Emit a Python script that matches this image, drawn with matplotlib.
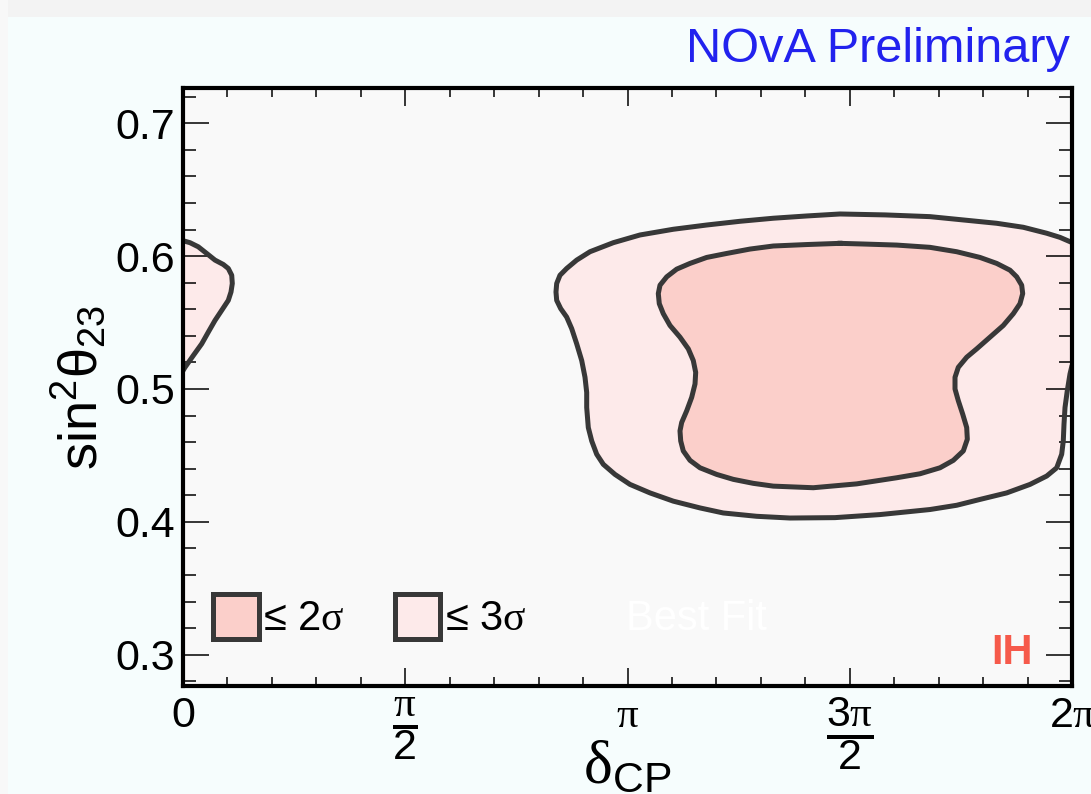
import numpy as np
import matplotlib
matplotlib.use('Agg')
import matplotlib.pyplot as plt
from matplotlib.patches import Patch, Rectangle
from matplotlib.lines import Line2D

plt.rcParams['font.family'] = ['Liberation Sans', 'DejaVu Sans']
plt.rcParams['mathtext.fontset'] = 'custom'
plt.rcParams['mathtext.rm'] = 'Liberation Sans'
plt.rcParams['mathtext.it'] = 'Liberation Sans:italic'
plt.rcParams['mathtext.bf'] = 'Liberation Sans:bold'
plt.rcParams['mathtext.sf'] = 'Liberation Serif'

# contour outlines: delta_CP (in units of pi), sin^2(theta23)
# 3 sigma, main island (open at delta = 2pi, closed along the frame)
sig3_dcp = [2.0, 1.9730, 1.9431, 1.8904, 1.8306, 1.6805, 1.5793, 1.4781, 1.4031, 1.3280,
            1.2531, 1.1782, 1.1030, 1.0281, 0.9681, 0.9156, 0.8857, 0.8632, 0.8481, 0.8407,
            0.8391, 0.8407, 0.8497, 0.8632, 0.8745, 0.8857, 0.8970, 0.9044, 0.9082, 0.9082,
            0.9118, 0.9195, 0.9307, 0.9456, 0.9719, 1.0056, 1.0506, 1.1030, 1.1631, 1.2155,
            1.2907, 1.3656, 1.4668, 1.5681, 1.6805, 1.7406, 1.7930, 1.8531, 1.9055, 1.9431,
            1.9656, 1.9768, 1.9804, 1.9820, 1.9843, 1.9894, 1.9955, 2.0]
sig3_s2 = [0.6102, 0.6141, 0.6172, 0.6217, 0.6247, 0.6297, 0.6310, 0.6317, 0.6302, 0.6285,
           0.6262, 0.6234, 0.6202, 0.6159, 0.6101, 0.6033, 0.5970, 0.5907, 0.5856, 0.5794,
           0.5730, 0.5667, 0.5605, 0.5541, 0.5454, 0.5340, 0.5214, 0.5088, 0.4974, 0.4861,
           0.4710, 0.4609, 0.4509, 0.4433, 0.4357, 0.4282, 0.4218, 0.4156, 0.4105, 0.4067,
           0.4042, 0.4029, 0.4032, 0.4055, 0.4093, 0.4125, 0.4169, 0.4218, 0.4282, 0.4345,
           0.4407, 0.4509, 0.4609, 0.4735, 0.4861, 0.4987, 0.5113, 0.5176]
# 3 sigma, piece wrapping around at delta = 0
sig3w_dcp = [0.0, 0.0157, 0.0344, 0.0533, 0.0720, 0.0907, 0.1019, 0.1096, 0.1109, 0.1080,
             0.1019, 0.0871, 0.0720, 0.0569, 0.0421, 0.0232, 0.0045, 0.0]
sig3w_s2 = [0.6116, 0.6101, 0.6070, 0.6020, 0.5970, 0.5937, 0.5907, 0.5856, 0.5794, 0.5730,
            0.5667, 0.5592, 0.5516, 0.5428, 0.5340, 0.5252, 0.5163, 0.5138]
# 2 sigma
sig2_dcp = [1.4781, 1.4031, 1.3280, 1.2756, 1.2232, 1.1782, 1.1406, 1.1107, 1.0882, 1.0731,
            1.0693, 1.0715, 1.0805, 1.0956, 1.1181, 1.1368, 1.1480, 1.1534, 1.1519, 1.1444,
            1.1332, 1.1219, 1.1181, 1.1197, 1.1255, 1.1406, 1.1631, 1.2007, 1.2380, 1.2830,
            1.3280, 1.4180, 1.5156, 1.6056, 1.6580, 1.7030, 1.7330, 1.7555, 1.7645, 1.7631,
            1.7541, 1.7442, 1.7368, 1.7368, 1.7442, 1.7631, 1.7856, 1.8155, 1.8454, 1.8680,
            1.8830, 1.8891, 1.8868, 1.8756, 1.8605, 1.8306, 1.7930, 1.7406, 1.6805, 1.6056,
            1.5305]
sig2_s2 = [0.6096, 0.6087, 0.6076, 0.6053, 0.6020, 0.5990, 0.5945, 0.5902, 0.5844, 0.5781,
           0.5718, 0.5642, 0.5567, 0.5478, 0.5390, 0.5302, 0.5214, 0.5125, 0.5038, 0.4937,
           0.4836, 0.4748, 0.4685, 0.4609, 0.4534, 0.4463, 0.4407, 0.4357, 0.4320, 0.4290,
           0.4269, 0.4257, 0.4286, 0.4332, 0.4362, 0.4407, 0.4463, 0.4534, 0.4622, 0.4710,
           0.4811, 0.4912, 0.5000, 0.5088, 0.5163, 0.5239, 0.5302, 0.5390, 0.5478, 0.5567,
           0.5642, 0.5718, 0.5781, 0.5844, 0.5894, 0.5945, 0.5990, 0.6033, 0.6066, 0.6083,
           0.6091]

xtick_vals = [0, 0.5, 1, 1.5, 2]
xtick_labels = ['0', r'$\genfrac{}{}{4}{0}{\mathsf{\pi}}{2}$', r'$\mathsf{\pi}$',
                r'$\genfrac{}{}{4}{0}{3\mathsf{\pi}}{2}$', r'$2\mathsf{\pi}$']
ytick_vals = [0.3, 0.4, 0.5, 0.6, 0.7]
legend_labels = [r'≤ 2$\mathsf{\sigma}$', r'≤ 3$\mathsf{\sigma}$', 'Best Fit']

c2 = '#fbcfca'
c3 = '#fdeaea'
edge = '#383838'
lw = 3.6

fig = plt.figure(figsize=(10.91, 7.94), dpi=100, facecolor='#f6fdfd')
fig.add_artist(Rectangle((0, 1 - 17/794), 1, 17/794, transform=fig.transFigure,
                         fc='#f3f3f3', ec='none'))
fig.add_artist(Rectangle((0, 0), 8/1091, 1, transform=fig.transFigure,
                         fc='#f8f8f8', ec='none'))
ax = fig.add_axes([183/1091, 1 - 686/794, 889/1091, 598/794])
ax.set_facecolor('#f9f9f9')

x3 = np.array(sig3_dcp) * np.pi
x3w = np.array(sig3w_dcp) * np.pi
x2 = np.array(sig2_dcp) * np.pi
ax.fill(x3, sig3_s2, fc=c3, lw=0)
ax.plot(x3, sig3_s2, color=edge, lw=lw, solid_joinstyle='round', solid_capstyle='round')
ax.fill(x3w, sig3w_s2, fc=c3, lw=0)
ax.plot(x3w, sig3w_s2, color=edge, lw=lw, solid_joinstyle='round', solid_capstyle='round')
ax.fill(x2, sig2_s2, fc=c2, lw=0)
ax.plot(np.append(x2, x2[0]), sig2_s2 + sig2_s2[:1], color=edge, lw=lw,
        solid_joinstyle='round')

ax.set_xlim(0, 2 * np.pi)
ax.set_ylim(0.2765, 0.7265)
ax.set_xticks(np.array(xtick_vals) * np.pi)
ax.set_xticklabels(xtick_labels)
ax.set_xticks(np.arange(0, 21) * np.pi / 10, minor=True)
ax.set_yticks(ytick_vals)
ax.set_yticklabels(['%.1f' % v for v in ytick_vals])
ax.set_yticks(np.arange(0.28, 0.7201, 0.02), minor=True)
ax.tick_params(which='both', direction='in', top=True, right=True, width=1.1, color='black')
ax.tick_params(axis='x', which='major', length=13, labelsize=31, pad=7)
ax.tick_params(axis='x', which='minor', length=6.5)
ax.tick_params(axis='y', which='major', length=19, labelsize=31, pad=6)
ax.tick_params(axis='y', which='minor', length=9.5)
for s in ax.spines.values():
    s.set_linewidth(3)
    s.set_zorder(5)

ax.set_xlabel(r'$\mathsf{\delta}_{\mathrm{CP}}$', fontsize=44)
ax.xaxis.set_label_coords(0.5, -0.088)
ax.set_ylabel(r'$\mathrm{sin^{2}\theta_{23}}$', fontsize=39)
ax.yaxis.set_label_coords(-0.084, 0.5)

handles = [Patch(fc=c2, ec=edge, lw=lw), Patch(fc=c3, ec=edge, lw=lw),
           Line2D([], [], ls='none')]
leg = ax.legend(handles, legend_labels, ncol=3, loc='lower left',
                bbox_to_anchor=(0.034, 0.078), frameon=False, fontsize=30,
                handlelength=1.1, handleheight=1.27, handletextpad=0.1,
                columnspacing=1.2, borderpad=0, borderaxespad=0)
leg.get_texts()[2].set_color('white')

ax.text(0.956, 0.037, 'IH', transform=ax.transAxes, ha='right', va='baseline',
        fontsize=30, fontweight='bold', color='#f65a4b')
fig.text(1070/1091, 1 - 62/794, 'NOvA Preliminary', ha='right', va='baseline',
         fontsize=35, color='#2222ee')

fig.savefig('out.png', dpi=100, facecolor=fig.get_facecolor())
